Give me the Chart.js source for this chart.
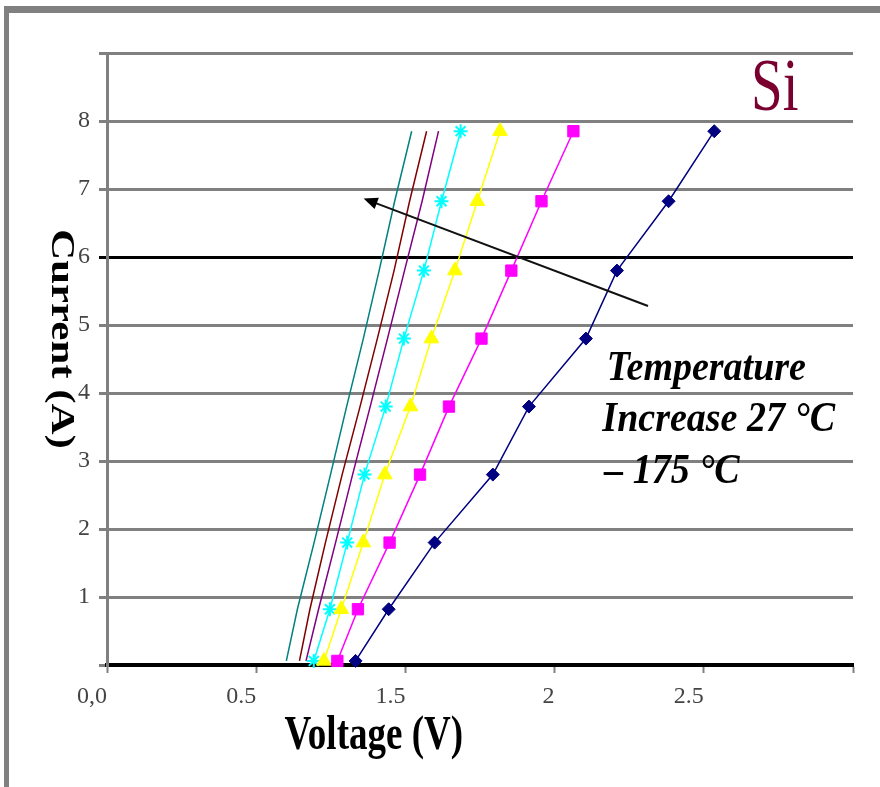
<!DOCTYPE html>
<html>
<head>
<meta charset="utf-8">
<script src="https://cdn.jsdelivr.net/npm/chart.js@4/dist/chart.umd.min.js"></script>
<style>
  body { margin: 0; background: #fff; }
  #wrap { position: relative; width: 880px; height: 787px; }
  #frame {
    position: absolute; left: 4px; top: 6px; right: 0; bottom: 0;
    border-top: 7px solid #808080; border-left: 5px solid #808080;
    pointer-events: none;
  }
</style>
</head>
<body>
<div id="wrap">
  <canvas id="chart"></canvas>
  <div id="frame"></div>
</div>
<script>
// current levels (A) shared by all curves
const currents = [0.06, 0.82, 1.8, 2.8, 3.8, 4.8, 5.8, 6.82, 7.85];

// voltage (V) per curve, lowest temperature first
const vNavy    = [1.333, 1.444, 1.598, 1.793, 1.914, 2.105, 2.209, 2.382, 2.535];
const vMagenta = [1.272, 1.341, 1.447, 1.549, 1.646, 1.755, 1.855, 1.956, 2.063];
const vYellow  = [1.227, 1.285, 1.359, 1.431, 1.517, 1.587, 1.666, 1.741, 1.817];
const vCyan    = [1.193, 1.247, 1.305, 1.363, 1.434, 1.495, 1.562, 1.621, 1.685];
const vPurple  = [1.167, 1.209, 1.266, 1.323, 1.382, 1.440, 1.497, 1.556, 1.611];
const vBrown   = [1.145, 1.180, 1.232, 1.288, 1.348, 1.406, 1.462, 1.514, 1.571];
const vTeal    = [1.101, 1.138, 1.194, 1.249, 1.303, 1.359, 1.412, 1.464, 1.521];

// axis tick labels as printed on the original
const xTickLabels = ['0,0', '0.5', '1.5', '2', '2.5', ''];
const yTickLabels = ['', '1', '2', '3', '4', '5', '6', '7', '8', ''];

const SERIF = '"Liberation Serif", "Times New Roman", serif';

function pts(vs) {
  return vs.map((v, i) => ({ x: v, y: currents[i] }));
}

function series(label, vs, color, style, radius) {
  return {
    label: label,
    data: pts(vs),
    borderColor: color,
    backgroundColor: color,
    borderWidth: 1.5,
    pointStyle: style || 'circle',
    pointRadius: radius || 0,
    pointBorderWidth: style === 'star' ? 2 : 1,
    tension: 0,
    clip: false,
  };
}

// text drawn a bit taller than wide, like the stretched original
function drawText(ctx, text, x, y, font, color, sy) {
  ctx.save();
  ctx.translate(x, y);
  ctx.scale(1, sy);
  ctx.font = font;
  ctx.fillStyle = color;
  ctx.textAlign = 'left';
  ctx.textBaseline = 'alphabetic';
  ctx.fillText(text, 0, 0);
  ctx.restore();
}

const notes = {
  id: 'notes',
  afterDraw(c) {
    const ctx = c.ctx;
    const xs = c.scales.x, ys = c.scales.y;
    const px = (v) => xs.getPixelForValue(v);
    const py = (a) => ys.getPixelForValue(a);

    // arrow: temperature rise shifts curves to the left
    const x0 = px(2.313), y0 = py(5.28);
    const x1 = px(1.360), y1 = py(6.86);
    const ang = Math.atan2(y1 - y0, x1 - x0);
    ctx.save();
    ctx.strokeStyle = '#111';
    ctx.fillStyle = '#000';
    ctx.lineWidth = 2;
    ctx.beginPath();
    ctx.moveTo(x0, y0);
    ctx.lineTo(x1 - 8 * Math.cos(ang), y1 - 8 * Math.sin(ang));
    ctx.stroke();
    ctx.beginPath();
    ctx.moveTo(x1, y1);
    ctx.lineTo(x1 - 14 * Math.cos(ang) + 6 * Math.sin(ang), y1 - 14 * Math.sin(ang) - 6 * Math.cos(ang));
    ctx.lineTo(x1 - 14 * Math.cos(ang) - 6 * Math.sin(ang), y1 - 14 * Math.sin(ang) + 6 * Math.cos(ang));
    ctx.closePath();
    ctx.fill();
    ctx.restore();

    drawText(ctx, 'Si', px(2.658), py(8.16), '57px ' + SERIF, '#7a0030', 1.3);

    const fi = 'italic bold 38px ' + SERIF;
    drawText(ctx, 'Temperature', px(2.175), py(4.19), fi, '#000', 1.12);
    drawText(ctx, 'Increase 27 °C', px(2.16), py(3.44), fi, '#000', 1.12);
    drawText(ctx, '– 175 °C', px(2.166), py(2.68), fi, '#000', 1.12);

    // axis titles
    drawText(ctx, 'Voltage (V)', px(1.095), py(-1.24), 'bold 37px ' + SERIF, '#000', 1.3);

    ctx.save();
    ctx.translate(61, (ys.top + ys.bottom) / 2 - 20);
    ctx.rotate(Math.PI / 2);
    ctx.scale(1.3, 1);
    ctx.font = 'bold 33px ' + SERIF;
    ctx.fillStyle = '#000';
    ctx.textAlign = 'center';
    ctx.textBaseline = 'middle';
    ctx.fillText('Current (A)', 0, 0);
    ctx.restore();
  },
};

const chart = new Chart(document.getElementById('chart'), {
  type: 'line',
  data: {
    datasets: [
      series('Series 1', vNavy, '#000080', 'rectRot', 6.5),
      series('Series 2', vMagenta, '#ff00ff', 'rect', 8),
      series('Series 3', vYellow, '#ffff00', 'triangle', 8.5),
      series('Series 4', vCyan, '#00ffff', 'star', 7),
      series('Series 5', vPurple, '#800080'),
      series('Series 6', vBrown, '#800000'),
      series('Series 7', vTeal, '#008080'),
    ],
  },
  options: {
    responsive: true,
    maintainAspectRatio: false,
    animation: false,
    layout: {
      padding: { top: 53, right: 27, left: 0, bottom: 0 },
    },
    plugins: {
      legend: { display: false },
      tooltip: { enabled: false },
    },
    scales: {
      x: {
        type: 'linear',
        min: 0.5,
        max: 3.0,
        afterFit(scale) { scale.height = 122; },
        ticks: {
          stepSize: 0.5,
          align: 'end',
          padding: 9,
          color: '#444',
          font: { family: SERIF, size: 24 },
          callback: (v, i) => xTickLabels[i],
        },
        grid: {
          drawOnChartArea: false,
          drawTicks: true,
          tickLength: 8,
          tickWidth: 2,
          tickColor: '#808080',
        },
        border: { color: '#000', width: 4 },
      },
      y: {
        type: 'linear',
        min: 0,
        max: 9,
        afterFit(scale) { scale.width = 107; },
        ticks: {
          stepSize: 1,
          padding: 9,
          color: '#444',
          font: { family: SERIF, size: 24 },
          callback: (v, i) => yTickLabels[i],
        },
        grid: {
          color: (ctx) => (ctx.tick && ctx.tick.value === 6 ? '#000' : '#808080'),
          lineWidth: 3,
          tickLength: 8,
        },
        border: { color: '#808080', width: 3 },
      },
    },
  },
  plugins: [notes],
});
</script>
</body>
</html>
